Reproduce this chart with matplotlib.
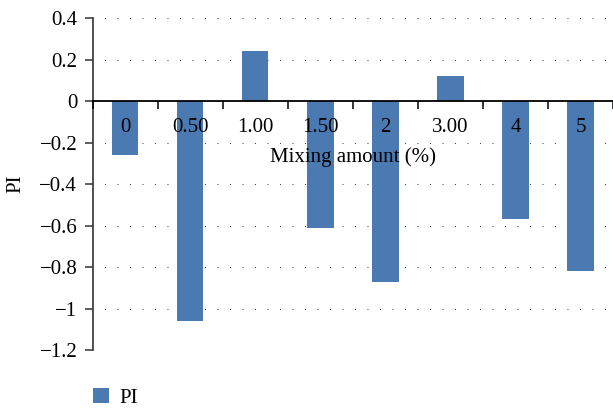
import matplotlib
matplotlib.use("Agg")
import matplotlib.pyplot as plt
from matplotlib.patches import Patch
from matplotlib.ticker import FixedLocator, NullFormatter

categories = ["0", "0.50", "1.00", "1.50", "2", "3.00", "4", "5"]
pi_values = [-0.26, -1.06, 0.24, -0.61, -0.87, 0.12, -0.57, -0.82]
y_ticks = [0.4, 0.2, 0, -0.2, -0.4, -0.6, -0.8, -1, -1.2]
y_tick_labels = ["0.4", "0.2", "0", "\u22120.2", "\u22120.4", "\u22120.6",
                 "\u22120.8", "\u22121", "\u22121.2"]

plt.rcParams["font.family"] = ["Liberation Serif", "DejaVu Serif"]
FS = 15
bar_color = "#4a7ab1"

fig = plt.figure(figsize=(6.13, 4.11), dpi=100)
ax = fig.add_axes([0.1509, 0.1484, 0.8491, 0.8071])
ax.set_axisbelow(False)

x = list(range(len(categories)))
ax.bar(x, pi_values, width=0.41, color=bar_color, zorder=2)

ax.set_xlim(-0.5, len(categories) - 0.5)
ax.set_ylim(-1.2, 0.4)

# y axis
ax.set_yticks(y_ticks)
ax.set_yticklabels(y_tick_labels, fontsize=FS)
ax.tick_params(axis="y", direction="out", length=6, width=1.1, pad=5, color="#333333")
ax.set_ylabel("PI", fontsize=FS, labelpad=10)

# dotted horizontal grid
for v in y_ticks:
    if v != 0:
        ax.axhline(v, color="#444444", lw=0.75, linestyle=(1, (1, 11)), zorder=1)

# x axis sits on zero; ticks between categories, labels at centres
ax.spines["bottom"].set_position(("data", 0))
ax.spines["bottom"].set_color("black")
ax.spines["bottom"].set_linewidth(1.3)
ax.spines["bottom"].set_zorder(3)
ax.spines["left"].set_color("#333333")
ax.spines["left"].set_linewidth(1.2)
ax.spines["top"].set_visible(False)
ax.spines["right"].set_visible(False)

ax.xaxis.set_major_locator(FixedLocator([i - 0.5 for i in range(len(categories) + 1)]))
ax.xaxis.set_major_formatter(NullFormatter())
ax.tick_params(axis="x", which="major", direction="out", length=5.5, width=1.1, color="black")
ax.set_xticks(x, minor=True)
ax.set_xticklabels(categories, minor=True, fontsize=FS)
ax.tick_params(axis="x", which="minor", length=0, pad=12)

ax.set_xlabel("Mixing amount (%)", fontsize=FS, va="center")
ax.xaxis.set_label_coords(0.5, 0.581)

fig.legend(handles=[Patch(facecolor=bar_color, label="PI")],
           loc="center left", bbox_to_anchor=(0.1517, 0.0316),
           frameon=False, fontsize=FS, handlelength=0.75, handleheight=0.75,
           handletextpad=0.5, borderpad=0, borderaxespad=0)

fig.savefig("out.png", dpi=100)
